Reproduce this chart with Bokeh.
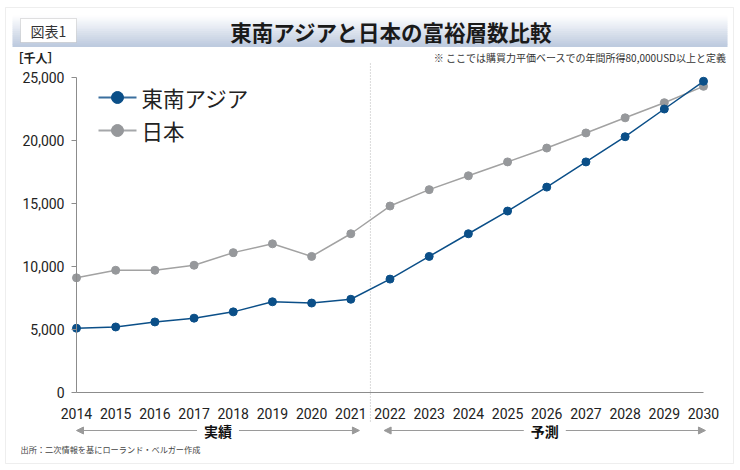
from bokeh.plotting import figure
from bokeh.models import (LinearAxis, FixedTicker, Label, Arrow, NormalHead,
                          BoxAnnotation, Range1d, NumeralTickFormatter)
from bokeh.embed import file_html
from bokeh.resources import INLINE

# ---------------- data ----------------
years = list(range(2014, 2031))
sea = [5100, 5200, 5600, 5900, 6400, 7200, 7100, 7400, 9000, 10800,
       12600, 14400, 16300, 18300, 20300, 22500, 24700]
japan = [9100, 9700, 9700, 10100, 11100, 11800, 10800, 12600, 14800, 16100,
         17200, 18300, 19400, 20600, 21800, 23000, 24300]
series_names = ["東南アジア", "日本"]
y_ticks = [0, 5000, 10000, 15000, 20000, 25000]
last_actual_year = 2021
period_labels = ["実績", "予測"]
title_text = "東南アジアと日本の富裕層数比較"
fig_tag = "図表1"
unit_text = "［千人］"
note_text = "※ ここでは購買力平価ベースでの年間所得80,000USD以上と定義"
source_text = "出所：二次情報を基にローランド・ベルガー作成"

# ---------------- layout ----------------
W, H = 740, 470
PX_X0, PX_X1 = 76, 703      # pixel of first / last year
PY_Y0, PY_Y1 = 392, 77      # pixel of 0 / 25000
x_first, x_last = years[0], years[-1]
kx = (PX_X1 - PX_X0) / (x_last - x_first)
ky = (PY_Y0 - PY_Y1) / y_ticks[-1]


def dx(px):
    return x_first + (px - PX_X0) / kx


def dy(py):
    return (PY_Y0 - py) / ky


CJK = "Noto Sans CJK JP"
NUM = "Roboto"
BLUE = "#0b4f88"
GRAY = "#96989b"

p = figure(width=W, height=H, x_range=Range1d(dx(0), dx(W)), y_range=Range1d(dy(H), dy(0)),
           x_axis_type=None, y_axis_type=None, toolbar_location=None,
           output_backend="svg", min_border=0, outline_line_color=None,
           background_fill_color="white", border_fill_color="white")

# outer border
p.add_layout(BoxAnnotation(left=dx(5), right=dx(733), top=dy(7), bottom=dy(463),
                           fill_color=None, line_color="#c8c8c8", line_width=1, level="underlay"))

# title bar gradient
n = 16
top_c = (255, 255, 255)
bot_c = (188, 201, 222)
y_top, y_bot = 15, 46
for i in range(n):
    t = (i + 0.5) / n
    c = tuple(int(round(top_c[k] + (bot_c[k] - top_c[k]) * t)) for k in range(3))
    col = "#%02x%02x%02x" % c
    p.add_layout(BoxAnnotation(left=dx(12), right=dx(727),
                               top=dy(y_top + (y_bot - y_top) * i / n),
                               bottom=dy(y_top + (y_bot - y_top) * (i + 1) / n + 0.5),
                               fill_color=col, fill_alpha=1, line_alpha=0, level="underlay"))

p.add_layout(BoxAnnotation(left=dx(20), right=dx(76), top=dy(18), bottom=dy(42),
                           fill_color="white", fill_alpha=1, line_color="#9a9a9a", line_width=1))
p.add_layout(Label(x=dx(48), y=dy(30), text=fig_tag, text_align="center", text_baseline="middle",
                   text_font=CJK, text_font_size="14px", text_color="#333333"))
p.add_layout(Label(x=dx(391), y=dy(31), text=title_text, text_align="center", text_baseline="middle",
                   text_font=CJK, text_font_size="21.5px", text_font_style="bold", text_color="#1a1a1a"))
p.add_layout(Label(x=dx(11), y=dy(57), text=unit_text, text_align="left", text_baseline="middle",
                   text_font=CJK, text_font_size="12px", text_font_style="bold", text_color="#222222"))
p.add_layout(Label(x=dx(726), y=dy(57), text=note_text, text_align="right", text_baseline="middle",
                   text_font=CJK, text_font_size="10px", text_color="#333333"))
p.add_layout(Label(x=dx(20), y=dy(448), text=source_text, text_align="left", text_baseline="middle",
                   text_font=CJK, text_font_size="8.2px", text_color="#444444"))

# axes
xaxis = LinearAxis(fixed_location=0, ticker=FixedTicker(ticks=years), bounds=(x_first, x_last),
                   axis_line_color="#8c8c8c", axis_line_width=1,
                   major_tick_line_color=None, minor_tick_line_color=None,
                   major_label_text_font=NUM, major_label_text_font_size="14px",
                   major_label_text_color="#222222", major_label_standoff=9)
p.add_layout(xaxis, "below")
yaxis = LinearAxis(fixed_location=x_first, ticker=FixedTicker(ticks=y_ticks), bounds=(0, y_ticks[-1]),
                   formatter=NumeralTickFormatter(format="0,0"),
                   axis_line_color="#8c8c8c", axis_line_width=1,
                   major_tick_line_color="#8c8c8c", major_tick_out=5, major_tick_in=0,
                   minor_tick_line_color=None,
                   major_label_text_font=NUM, major_label_text_font_size="14px",
                   major_label_text_color="#222222", major_label_standoff=7)
p.add_layout(yaxis, "left")

# boundary between actual and forecast
boundary = last_actual_year + 0.5
p.segment(x0=[boundary], y0=[dy(421)], x1=[boundary], y1=[dy(62)],
          line_color="#b5b5b5", line_width=1, line_dash="1 2")

# data
p.line(years, japan, line_color="#a2a2a2", line_width=1.5)
p.scatter(years, japan, size=8, fill_color=GRAY, line_color=GRAY)
p.line(years, sea, line_color=BLUE, line_width=1.5)
p.scatter(years, sea, size=8, fill_color=BLUE, line_color=BLUE)

# legend (manual)
for name, col, lcol, py in [(series_names[0], BLUE, "#3a6f9e", 97), (series_names[1], GRAY, "#a5a7aa", 130)]:
    p.segment(x0=[dx(98)], y0=[dy(py)], x1=[dx(136)], y1=[dy(py)], line_color=lcol, line_width=2)
    p.scatter([dx(117)], [dy(py)], size=12, fill_color=col, line_color=col)
    p.add_layout(Label(x=dx(141), y=dy(py), text=name, text_align="left", text_baseline="middle",
                       text_font=CJK, text_font_size="21.5px", text_color="#222222"))

# period arrows (two half-arrows on each side of the label)
arrow_y = dy(430)
half_gap = 21 / kx
ac = "#9a9a9a"
for x0, x1, lab in [(x_first, boundary - 0.28, period_labels[0]),
                    (boundary + 0.35, x_last + 0.05, period_labels[1])]:
    xm = (x0 + x1) / 2
    p.add_layout(Arrow(x_start=xm - half_gap, y_start=arrow_y, x_end=x0, y_end=arrow_y,
                       line_color=ac, line_width=1.2, start=None,
                       end=NormalHead(size=7, fill_color=ac, line_color=ac)))
    p.add_layout(Arrow(x_start=xm + half_gap, y_start=arrow_y, x_end=x1, y_end=arrow_y,
                       line_color=ac, line_width=1.2, start=None,
                       end=NormalHead(size=7, fill_color=ac, line_color=ac)))
    p.add_layout(Label(x=xm, y=arrow_y, text=lab, text_align="center", text_baseline="middle",
                       text_font=CJK, text_font_size="14px", text_font_style="bold",
                       text_color="#111111"))

open("out.html", "w").write(file_html(p, INLINE))
